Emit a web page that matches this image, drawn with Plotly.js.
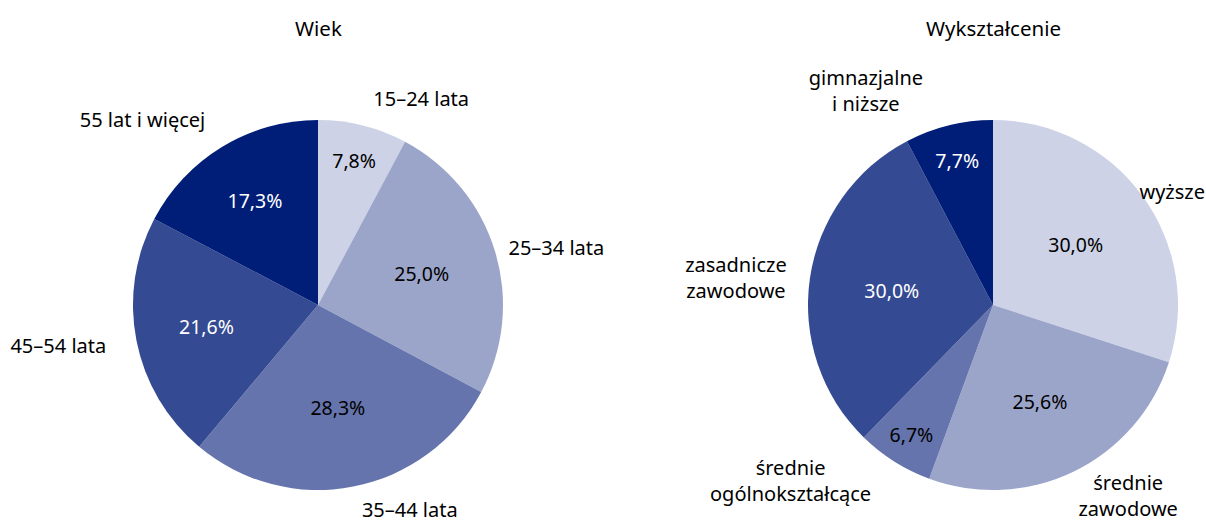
<!DOCTYPE html>
<html>
<head>
<meta charset="utf-8">
<script src="https://cdn.plot.ly/plotly-3.0.1.min.js"></script>
<style>html,body{margin:0;padding:0;background:#fff;}#chart{width:1206px;height:527px;}</style>
</head>
<body>
<div id="chart"></div>
<script>
// Data
const ageLabels = ['15–24 lata', '25–34 lata', '35–44 lata', '45–54 lata', '55 lat i więcej'];
const ageValues = [7.8, 25.0, 28.3, 21.6, 17.3];
const eduLabels = ['wyższe', 'średnie<br>zawodowe', 'średnie<br>ogólnokształcące', 'zasadnicze<br>zawodowe', 'gimnazjalne<br>i niższe'];
const eduValues = [30.0, 25.6, 6.7, 30.0, 7.7];
const ageTitle = 'Wiek';
const eduTitle = 'Wykształcenie';

// Styles
const ageColors = ['#cdd2e6', '#9ba5ca', '#6574ac', '#344a92', '#001e77'];
const ageTextColors = ['#000', '#000', '#000', '#fff', '#fff'];
const eduColors = ['#cdd2e6', '#9ba5ca', '#6574ac', '#344a92', '#001e77'];
const eduTextColors = ['#000', '#000', '#000', '#fff', '#fff'];
// extra distance (px) of each outside label from the pie edge
const ageLabelGap = [15, 7, 10, 24, 20];
const eduLabelGap = [0, 3, 0, 0, 10];

const FONT = 'Noto Sans, sans-serif';
const W = 1206, H = 527;
const R = 185;
function dom(cx, cy, r) {
  return {x: [(cx - r) / W, (cx + r) / W], y: [1 - (cy + r) / H, 1 - (cy - r) / H]};
}

function pieInside(labels, values, colors, textColors, cx, cy) {
  return {
    type: 'pie', labels: labels, values: values, domain: dom(cx, cy, R),
    sort: false, direction: 'clockwise', rotation: 0,
    marker: {colors: colors, line: {width: 0}},
    texttemplate: '%{value:.1f}%', textposition: 'inside',
    insidetextorientation: 'horizontal',
    insidetextfont: {family: FONT, size: 19.5, color: textColors},
    showlegend: false, hoverinfo: 'label+value'
  };
}
function pieOutside(labels, values, gaps, cx, cy) {
  const pull = gaps.map(g => g / R);
  const maxPull = Math.max(...pull);
  return {
    type: 'pie', labels: labels, values: values, domain: dom(cx, cy, R * (1 + maxPull)),
    sort: false, direction: 'clockwise', rotation: 0, pull: pull,
    marker: {colors: labels.map(() => 'rgba(0,0,0,0)'), line: {width: 0}},
    textinfo: 'label', textposition: 'outside',
    outsidetextfont: {family: FONT, size: 20, color: '#000'},
    showlegend: false, hoverinfo: 'skip'
  };
}

const data = [
  pieInside(ageLabels, ageValues, ageColors, ageTextColors, 318, 305),
  pieOutside(ageLabels, ageValues, ageLabelGap, 318, 305),
  pieInside(eduLabels, eduValues, eduColors, eduTextColors, 993, 305),
  pieOutside(eduLabels, eduValues, eduLabelGap, 983, 305)
];

const layout = {
  width: W, height: H,
  margin: {l: 0, r: 0, t: 0, b: 0},
  paper_bgcolor: '#fff',
  separators: ', ',
  font: {family: FONT, size: 20, color: '#000'},
  annotations: [
    {text: ageTitle, x: 318 / W, y: 1 - 28 / H, xref: 'paper', yref: 'paper', showarrow: false, xanchor: 'center', yanchor: 'middle', font: {family: FONT, size: 20.5, color: '#000'}},
    {text: eduTitle, x: 993 / W, y: 1 - 28 / H, xref: 'paper', yref: 'paper', showarrow: false, xanchor: 'center', yanchor: 'middle', font: {family: FONT, size: 20.5, color: '#000'}}
  ]
};

Plotly.newPlot('chart', data, layout, {displayModeBar: false, staticPlot: true});
</script>
</body>
</html>
